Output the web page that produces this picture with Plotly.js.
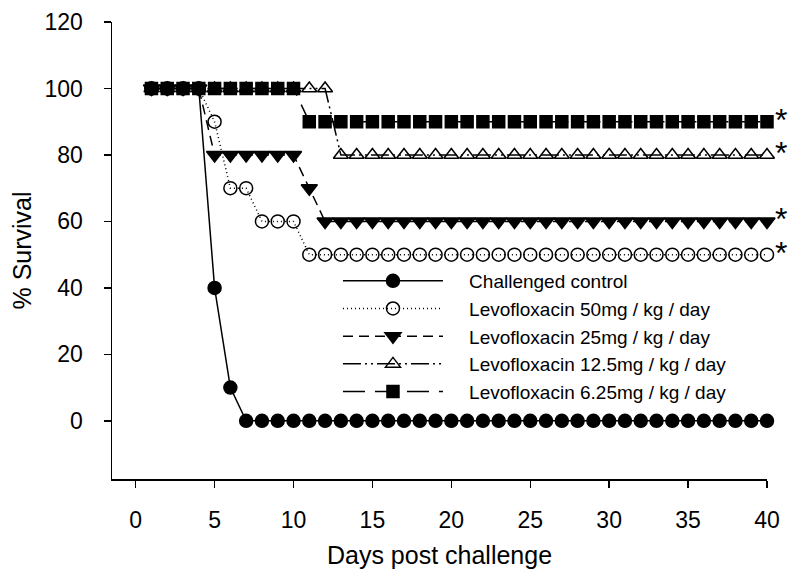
<!DOCTYPE html>
<html>
<head>
<meta charset="utf-8">
<script src="https://cdn.plot.ly/plotly-3.0.1.min.js"></script>
<style>html,body{margin:0;padding:0;background:#fff;}#chart{width:800px;height:580px;}</style>
</head>
<body>
<div id="chart"></div>
<script>
// ---- data ----
const days = Array.from({length: 40}, (_, i) => i + 1);
const seriesNames = [
  "Challenged control",
  "Levofloxacin 50mg / kg / day",
  "Levofloxacin 25mg / kg / day",
  "Levofloxacin 12.5mg / kg / day",
  "Levofloxacin 6.25mg / kg / day"
];
const control = [100,100,100,100,40,10].concat(Array(34).fill(0));
const levo50  = [100,100,100,100,90,70,70,60,60,60].concat(Array(30).fill(50));
const levo25  = [100,100,100,100,80,80,80,80,80,80,70].concat(Array(29).fill(60));
const levo125 = [100,100,100,100,100,100,100,100,100,100,100,100].concat(Array(28).fill(80));
const levo625 = [100,100,100,100,100,100,100,100,100,100].concat(Array(30).fill(90));
const significant = [false, true, true, true, true];
const xTicks = [0,5,10,15,20,25,30,35,40];
const yTicks = [0,20,40,60,80,100,120];

const FONT = "Liberation Sans, Arial, sans-serif";
const allSeries = [control, levo50, levo25, levo125, levo625];
const styles = [
  {symbol: "circle", size: 13, dash: "solid"},
  {symbol: "circle-open", size: 13, dash: "1px,3px"},
  {symbol: "triangle-down", size: 14, dash: "10px,6px"},
  {symbol: "triangle-up-open", size: 13, dash: "18px,4px,2px,4px,2px,4px"},
  {symbol: "square", size: 12, dash: "22px,10px"}
];
// draw order: 12.5, 50, 25, 6.25, control (control on top)
const drawOrder = [3, 1, 2, 4, 0];
const traces = drawOrder.map(i => ({
  type: "scatter",
  mode: "lines+markers",
  x: days,
  y: allSeries[i],
  name: "\u00a0\u00a0\u00a0\u00a0" + seriesNames[i],
  legendrank: i + 1,
  line: {color: "black", width: 1.5, dash: styles[i].dash},
  marker: {symbol: styles[i].symbol, size: styles[i].size, color: "black",
           line: {color: "black", width: 1.5}},
  cliponaxis: false
}));

const annotations = [];
allSeries.forEach((s, i) => {
  if (significant[i]) {
    annotations.push({
      x: days[days.length - 1], y: s[s.length - 1], xref: "x", yref: "y",
      text: "*", showarrow: false, xanchor: "left", yanchor: "middle",
      xshift: 6, yshift: 2,
      font: {family: FONT, size: 32, color: "black"}
    });
  }
});

const layout = {
  width: 800, height: 580,
  margin: {l: 112, r: 33, t: 22, b: 101},
  paper_bgcolor: "white", plot_bgcolor: "white",
  showlegend: true,
  legend: {
    x: 0.345, y: 0.475, xanchor: "left", yanchor: "top",
    bgcolor: "rgba(0,0,0,0)", borderwidth: 0,
    itemwidth: 100,
    font: {family: FONT, size: 19, color: "black"},
    traceorder: "normal"
  },
  xaxis: {
    range: [-1.5, 40], tickvals: xTicks, ticktext: xTicks.map(String),
    showgrid: false, zeroline: false, showline: true, linecolor: "black", linewidth: 1.5,
    ticks: "outside", ticklen: 7, tickwidth: 1.5, tickcolor: "black",
    ticklabelstandoff: 13,
    tickfont: {family: FONT, size: 23, color: "black"},
    title: {text: "Days post challenge", font: {family: FONT, size: 25, color: "black"}, standoff: 14}
  },
  yaxis: {
    range: [-17.5, 120], tickvals: yTicks, ticktext: yTicks.map(String),
    showgrid: false, zeroline: false, showline: true, linecolor: "black", linewidth: 1.5,
    ticks: "outside", ticklen: 7, tickwidth: 1.5, tickcolor: "black",
    ticklabelstandoff: 16,
    tickfont: {family: FONT, size: 23, color: "black"},
    title: {text: "% Survival", font: {family: FONT, size: 25, color: "black"}, standoff: 6}
  },
  annotations: annotations
};

Plotly.newPlot("chart", traces, layout, {displayModeBar: false, staticPlot: true});
</script>
</body>
</html>
